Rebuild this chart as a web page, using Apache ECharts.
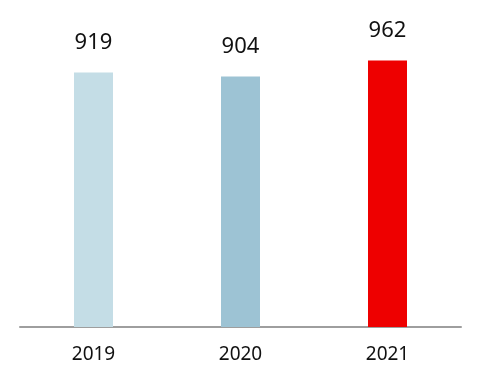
<!DOCTYPE html>
<html>
<head>
<meta charset="utf-8">
<script src="https://cdn.jsdelivr.net/npm/echarts@6/dist/echarts.min.js"></script>
<style>html,body{margin:0;padding:0;background:#fff;}#c{width:482px;height:390px;}</style>
</head>
<body>
<div id="c"></div>
<script>
var categories = ['2019', '2020', '2021'];
var values = [919, 904, 962];
var barColors = ['#c4dde6', '#9dc3d4', '#ee0000'];

var chart = echarts.init(document.getElementById('c'), null, {renderer: 'canvas'});
chart.setOption({
  animation: false,
  grid: {left: 20, right: 21, top: 50, bottom: 63},
  xAxis: {
    type: 'category',
    data: categories,
    axisLine: {lineStyle: {color: '#9e9e9e', width: 2}},
    axisTick: {show: false},
    axisLabel: {fontFamily: 'Noto Sans', fontSize: 19, color: '#111', margin: 18}
  },
  yAxis: {
    type: 'value', min: 0, max: 1000, show: false,
    splitLine: {show: false}
  },
  series: [{
    type: 'bar',
    barWidth: 39,
    data: values.map(function (v, i) { return {value: v, itemStyle: {color: barColors[i]}}; }),
    label: {show: true, position: 'top', distance: 19, fontFamily: 'Noto Sans', fontSize: 22, color: '#111'}
  }]
});
</script>
</body>
</html>
